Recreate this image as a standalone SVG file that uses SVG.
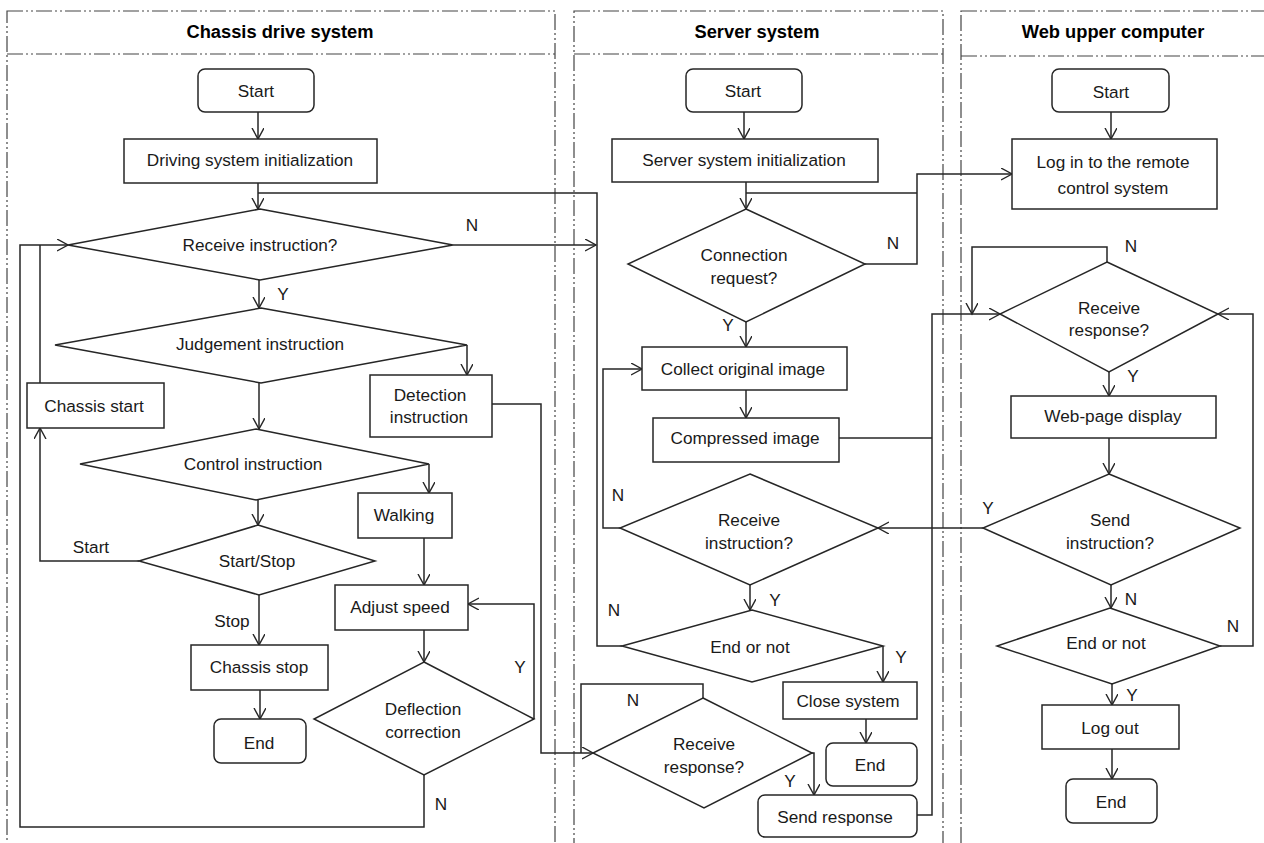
<svg xmlns="http://www.w3.org/2000/svg" width="1264" height="843" viewBox="0 0 1264 843">
<defs>
<marker id="arr" markerUnits="userSpaceOnUse" markerWidth="14" markerHeight="14" refX="11" refY="6" orient="auto">
<path d="M0,0 L11,6 L0,12" fill="none" stroke="#262626" stroke-width="1.4"/>
</marker>
</defs>
<style>
text{font-family:"Liberation Sans",Arial,sans-serif;font-size:17.2px;fill:#1a1a1a;text-anchor:middle}
.title{font-weight:bold;font-size:18.3px;fill:#000}
.lane{fill:none;stroke:#444;stroke-width:1.2;stroke-dasharray:16 3 2 3 2 3}
.n rect,.n polygon{fill:#fff;stroke:#262626;stroke-width:1.5}
.c path{fill:none;stroke:#262626;stroke-width:1.5}
.c path.a{marker-end:url(#arr)}
</style>
<rect width="1264" height="843" fill="#fff"/>
<g id="lanes">
<rect class="lane" x="7" y="11" width="548" height="850"/>
<line class="lane" x1="7" y1="54" x2="555" y2="54"/>
<text class="title" x="280" y="38">Chassis drive system</text>
<rect class="lane" x="574" y="11" width="369" height="850"/>
<line class="lane" x1="574" y1="54" x2="943" y2="54"/>
<text class="title" x="757" y="38">Server system</text>
<rect class="lane" x="961" y="11" width="320" height="850"/>
<line class="lane" x1="961" y1="56" x2="1281" y2="56"/>
<text class="title" x="1113" y="38">Web upper computer</text>
</g>
<g class="c" id="connectors">
<path class="a" d="M258,112 V139"/>
<path class="a" d="M258,183 V209"/>
<path d="M622,646 H597 V193 H258"/>
<path class="a" d="M453,245 H596"/>
<path class="a" d="M259,279 V308"/>
<path class="a" d="M467,345 V375"/>
<path class="a" d="M259,383 V429"/>
<path class="a" d="M492,404 H541 V753 H593"/>
<path class="a" d="M429,464 V493"/>
<path class="a" d="M258,500 V525"/>
<path class="a" d="M139,561 H40 V428"/>
<path d="M40,383 V245"/>
<path class="a" d="M259,595 V645"/>
<path class="a" d="M260,690 V719"/>
<path class="a" d="M424,538 V585"/>
<path class="a" d="M424,630 V662"/>
<path class="a" d="M534,719 V604 H468"/>
<path class="a" d="M424,775 V827 H20 V245 H68"/>
<path class="a" d="M744,112 V139"/>
<path class="a" d="M746,182 V209"/>
<path class="a" d="M865,264 H917 V174 H1012"/>
<path d="M917,193 H746"/>
<path class="a" d="M746,322 V347"/>
<path class="a" d="M746,390 V418"/>
<path d="M839,438 H932"/>
<path class="a" d="M917,815 H932 V314 H1000"/>
<path class="a" d="M620,528 H603 V369 H642"/>
<path class="a" d="M750,585 V610"/>
<path class="a" d="M883,646 V682"/>
<path class="a" d="M866,719 V743"/>
<path d="M703,698 V684 H581 V753"/>
<path class="a" d="M812,753 H814 V795"/>
<path class="a" d="M1111,112 V139"/>
<path class="a" d="M1107,262 V247 H972 V314"/>
<path class="a" d="M1109,372 V396"/>
<path class="a" d="M1109,438 V474"/>
<path class="a" d="M983,528 H878"/>
<path class="a" d="M1111,585 V608"/>
<path class="a" d="M1220,646 H1253 V314 H1218"/>
<path class="a" d="M1112,684 V705"/>
<path class="a" d="M1112,749 V779"/>
</g>
<g id="labels">
<text x="472" y="231">N</text>
<text x="283" y="300">Y</text>
<text x="91" y="553">Start</text>
<text x="232" y="627">Stop</text>
<text x="520" y="673">Y</text>
<text x="441" y="810">N</text>
<text x="893" y="249">N</text>
<text x="728" y="331">Y</text>
<text x="618" y="501">N</text>
<text x="775" y="606">Y</text>
<text x="614" y="616">N</text>
<text x="901" y="663">Y</text>
<text x="633" y="706">N</text>
<text x="790" y="787">Y</text>
<text x="1131" y="252">N</text>
<text x="1133" y="382">Y</text>
<text x="988" y="514">Y</text>
<text x="1131" y="605">N</text>
<text x="1233" y="632">N</text>
<text x="1132" y="701">Y</text>
</g>
<g class="n" id="c-start"><rect x="198" y="69" width="116" height="43" rx="7"/><text x="256" y="97">Start</text></g>
<g class="n" id="c-init"><rect x="124" y="139" width="253" height="44"/><text x="250" y="166">Driving system initialization</text></g>
<g class="n" id="c-recv"><polygon points="260,209 453,245 260,280 68,245"/><text x="260" y="251">Receive instruction?</text></g>
<g class="n" id="c-judge"><polygon points="261,308 467,345 261,383 55,345"/><text x="260" y="350">Judgement instruction</text></g>
<g class="n" id="c-cstart"><rect x="27" y="383" width="137" height="45"/><text x="94" y="412">Chassis start</text></g>
<g class="n" id="c-detect"><rect x="370" y="375" width="122" height="62"/><text x="430" y="401">Detection</text><text x="429" y="423">instruction</text></g>
<g class="n" id="c-control"><polygon points="256,429 429,464 256,500 80,464"/><text x="253" y="470">Control instruction</text></g>
<g class="n" id="c-walk"><rect x="358" y="493" width="94" height="45"/><text x="404" y="521">Walking</text></g>
<g class="n" id="c-ss"><polygon points="258,525 375,561 259,595 139,561"/><text x="257" y="567">Start/Stop</text></g>
<g class="n" id="c-cstop"><rect x="191" y="645" width="137" height="45"/><text x="259" y="673">Chassis stop</text></g>
<g class="n" id="c-end"><rect x="214" y="719" width="92" height="44" rx="7"/><text x="259" y="749">End</text></g>
<g class="n" id="c-adjust"><rect x="335" y="585" width="133" height="45"/><text x="400" y="613">Adjust speed</text></g>
<g class="n" id="c-defl"><polygon points="424,662 534,719 424,775 314,719"/><text x="423" y="715">Deflection</text><text x="423" y="738">correction</text></g>
<g class="n" id="s-start"><rect x="686" y="69" width="116" height="43" rx="7"/><text x="743" y="97">Start</text></g>
<g class="n" id="s-init"><rect x="612" y="139" width="266" height="43"/><text x="744" y="166">Server system initialization</text></g>
<g class="n" id="s-conn"><polygon points="746,209 865,264 746,322 628,264"/><text x="744" y="261">Connection</text><text x="744" y="284">request?</text></g>
<g class="n" id="s-collect"><rect x="642" y="347" width="205" height="43"/><text x="743" y="375">Collect original image</text></g>
<g class="n" id="s-comp"><rect x="653" y="418" width="186" height="44"/><text x="745" y="444">Compressed image</text></g>
<g class="n" id="s-recv"><polygon points="750,474 878,528 750,585 620,528"/><text x="749" y="526">Receive</text><text x="749" y="549">instruction?</text></g>
<g class="n" id="s-endornot"><polygon points="752,610 883,646 752,682 622,646"/><text x="750" y="653">End or not</text></g>
<g class="n" id="s-close"><rect x="783" y="682" width="134" height="37"/><text x="848" y="707">Close system</text></g>
<g class="n" id="s-end"><rect x="826" y="743" width="91" height="43" rx="7"/><text x="870" y="771">End</text></g>
<g class="n" id="s-resp"><polygon points="703,698 812,753 704,808 593,753"/><text x="704" y="750">Receive</text><text x="704" y="773">response?</text></g>
<g class="n" id="s-send"><rect x="758" y="795" width="159" height="42" rx="7"/><text x="835" y="823">Send response</text></g>
<g class="n" id="w-start"><rect x="1052" y="69" width="117" height="43" rx="7"/><text x="1111" y="98">Start</text></g>
<g class="n" id="w-login"><rect x="1012" y="139" width="205" height="70"/><text x="1113" y="168">Log in to the remote</text><text x="1113" y="194">control system</text></g>
<g class="n" id="w-resp"><polygon points="1107,262 1218,314 1109,372 1000,314"/><text x="1109" y="314">Receive</text><text x="1109" y="336">response?</text></g>
<g class="n" id="w-web"><rect x="1011" y="396" width="205" height="42"/><text x="1113" y="422">Web-page display</text></g>
<g class="n" id="w-send"><polygon points="1109,474 1240,528 1111,585 983,528"/><text x="1110" y="526">Send</text><text x="1110" y="549">instruction?</text></g>
<g class="n" id="w-endornot"><polygon points="1110,608 1220,646 1112,684 997,646"/><text x="1106" y="649">End or not</text></g>
<g class="n" id="w-logout"><rect x="1042" y="705" width="137" height="44"/><text x="1110" y="734">Log out</text></g>
<g class="n" id="w-end"><rect x="1066" y="779" width="91" height="44" rx="7"/><text x="1111" y="808">End</text></g>
</svg>
